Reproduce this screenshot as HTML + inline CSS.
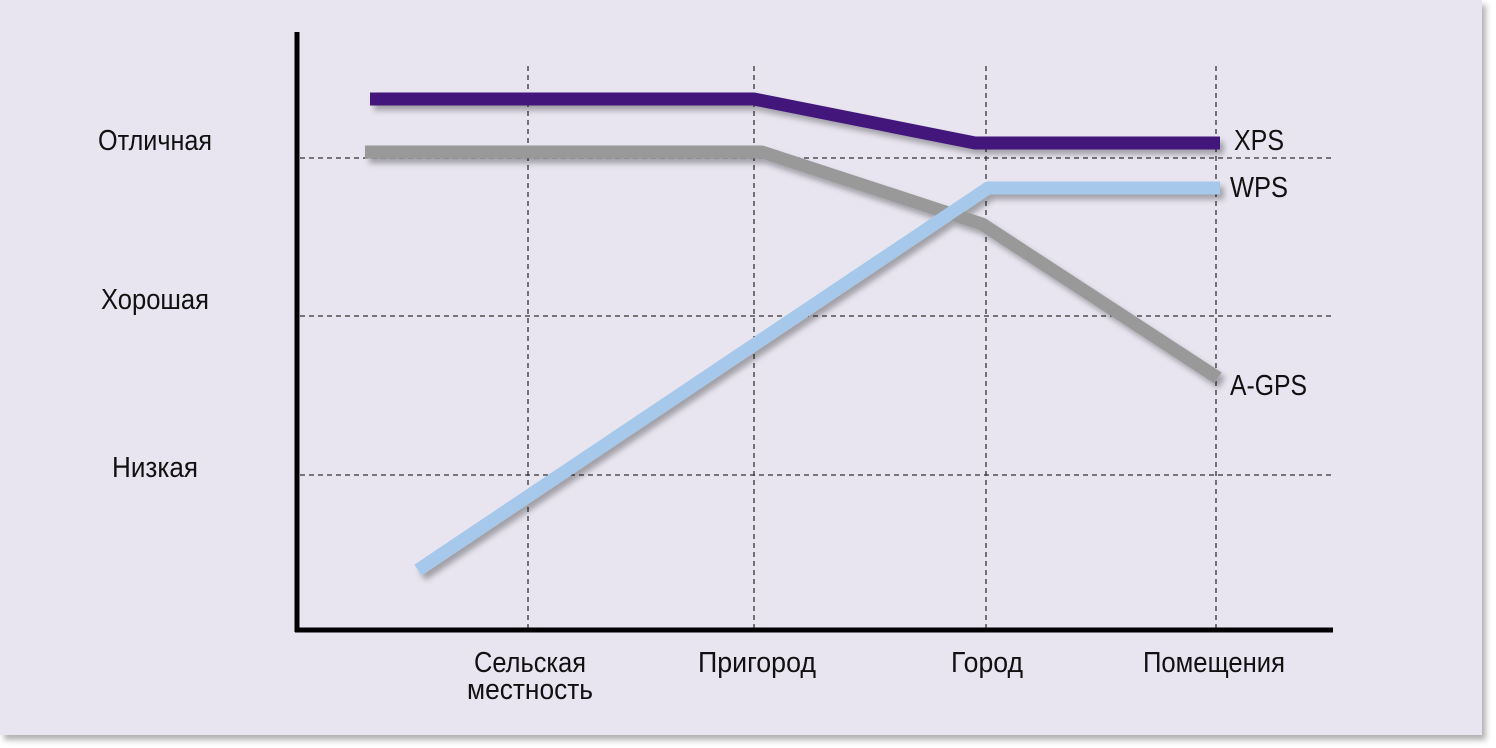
<!DOCTYPE html>
<html><head><meta charset="utf-8"><style>
html,body{margin:0;padding:0;background:#fff;}
svg{display:block}
text{font-family:"Liberation Sans Narrow","Liberation Sans",sans-serif;fill:#111;}
</style></head><body>
<svg width="1496" height="748" viewBox="0 0 1496 748" xmlns="http://www.w3.org/2000/svg">
<defs>
<filter id="sh" x="-10%" y="-10%" width="120%" height="130%"><feDropShadow dx="4" dy="5" stdDeviation="3" flood-color="#000" flood-opacity="0.3"/></filter>
</defs>
<rect x="0" y="0" width="1482" height="735" fill="#e8e5f0" filter="url(#sh)"/>
<g stroke="#333" stroke-width="1.3" stroke-dasharray="5,4" fill="none">
<line x1="300" y1="158" x2="1333" y2="158"/>
<line x1="300" y1="316" x2="1333" y2="316"/>
<line x1="300" y1="475" x2="1333" y2="475"/>
<line x1="528" y1="66" x2="528" y2="628"/>
<line x1="754" y1="66" x2="754" y2="628"/>
<line x1="986" y1="66" x2="986" y2="628"/>
<line x1="1216" y1="66" x2="1216" y2="628"/>
</g>
<g fill="none" stroke-width="13" stroke-linejoin="round" filter="url(#sh)">
<polyline points="365,152 762,152 982,224 1218,378" stroke="#999999"/>
<polyline points="418,570 988,188 1220,188" stroke="#a6c8ea"/>
<polyline points="370,99 754,99 975,143 1220,143" stroke="#42197a"/>
</g>
<line x1="297" y1="32" x2="297" y2="632" stroke="#000" stroke-width="5"/>
<line x1="295" y1="630" x2="1333" y2="630" stroke="#000" stroke-width="5"/>
<g font-size="29">
<text x="155" y="150" text-anchor="middle" textLength="114" lengthAdjust="spacingAndGlyphs">Отличная</text>
<text x="155" y="309" text-anchor="middle" textLength="108" lengthAdjust="spacingAndGlyphs">Хорошая</text>
<text x="155" y="477" text-anchor="middle" textLength="86" lengthAdjust="spacingAndGlyphs">Низкая</text>
<text x="530" y="672" text-anchor="middle" textLength="112" lengthAdjust="spacingAndGlyphs">Сельская</text>
<text x="530" y="699" text-anchor="middle" textLength="126" lengthAdjust="spacingAndGlyphs">местность</text>
<text x="757" y="672" text-anchor="middle" textLength="118" lengthAdjust="spacingAndGlyphs">Пригород</text>
<text x="987" y="672" text-anchor="middle" textLength="72" lengthAdjust="spacingAndGlyphs">Город</text>
<text x="1214" y="672" text-anchor="middle" textLength="142" lengthAdjust="spacingAndGlyphs">Помещения</text>
<text x="1234" y="150" textLength="50" lengthAdjust="spacingAndGlyphs">XPS</text>
<text x="1230" y="197" textLength="58" lengthAdjust="spacingAndGlyphs">WPS</text>
<text x="1230" y="395" textLength="77" lengthAdjust="spacingAndGlyphs">A-GPS</text>
</g>
</svg>
</body></html>
